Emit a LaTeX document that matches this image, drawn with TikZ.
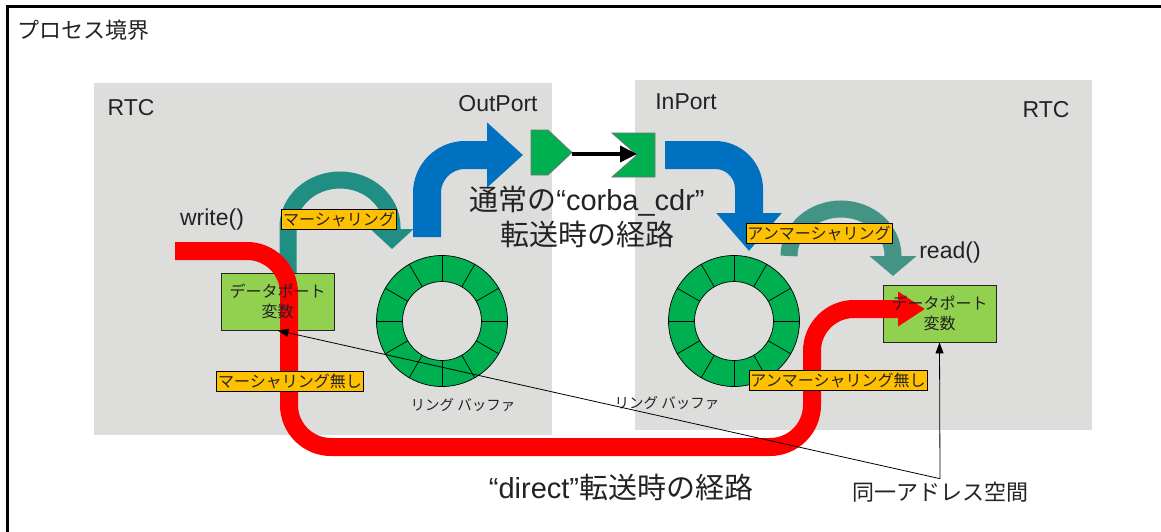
\documentclass[tikz,border=0pt]{standalone}
\usepackage{fontspec}
\setmainfont{Liberation Sans}
\newfontfamily\jp{Noto Sans CJK JP}
\usetikzlibrary{arrows.meta}

\definecolor{rtcgray}{RGB}{221,221,220}
\definecolor{portblue}{RGB}{0,112,192}
\definecolor{marshteal}{RGB}{33,142,131}
\definecolor{unmarshteal}{RGB}{68,148,133}
\definecolor{ringgreen}{RGB}{0,176,80}
\definecolor{dpgreen}{RGB}{146,208,80}
\definecolor{tagyellow}{RGB}{255,192,0}
\definecolor{ink}{RGB}{35,35,35}

\tikzset{
  rtc/.style={fill=rtcgray},
  en/.style={inner sep=0pt, text=ink, font=\fontsize{23}{27}\selectfont},
  jptxt/.style={inner sep=0pt, text=ink, font=\jp\fontsize{#1}{#1}\selectfont},
  big/.style={inner sep=0pt, text=ink, align=center, font=\fontsize{29}{35}\selectfont},
  tag/.style={draw=black, line width=0.8pt, fill=tagyellow, text=ink, inner xsep=1.5pt, inner ysep=2.5pt, font=\jp\fontsize{16}{16}\selectfont},
  dpbox/.style={draw=black!85, line width=0.8pt, fill=dpgreen, minimum width=113pt, minimum height=57pt, inner sep=0pt},
  dptext/.style={inner sep=0pt, text=ink, align=center, font=\jp\fontsize{16}{20}\selectfont},
  port/.style={fill=ringgreen, draw=black!55, line width=0.8pt},
  flow/.style={line width=#1, line cap=butt},
  pointer/.style={line width=0.8pt, -{Triangle[length=11pt,width=8pt]}},
}

\begin{document}
\begin{tikzpicture}[x=1pt, y=-1pt]
\useasboundingbox (0,0) rectangle (1161,531);
\fill[white] (0,0) rectangle (1161,531);
\clip (0,0) rectangle (1161,531);
\draw[line width=3pt] (7.5,6.5) rectangle (1190,560);
\node[jptxt=22, anchor=west] (title) at (17,30) {プロセス境界};

% RTC
\fill[rtc] (94,83) rectangle (552,435);
\fill[rtc] (635,80) rectangle (1092,430);
\node[en] (rtcL) at (131,108) {RTC};
\node[en] (rtcR) at (1046,110) {RTC};
\node[en] (outport) at (498,104) {OutPort};
\node[en] (inport) at (686,102) {InPort};

% ring buffers
\coordinate (ringL) at (442,321);
\coordinate (ringR) at (734,321);
\foreach \buf in {ringL,ringR}{
  \fill[ringgreen, even odd rule] (\buf) circle[radius=65.5pt] (\buf) circle[radius=39.5pt];
  \draw[line width=0.7pt] (\buf) circle[radius=65.5pt] (\buf) circle[radius=39.5pt];
  \foreach \a in {0,30,...,330}
    \draw[line width=0.7pt] (\buf)+(\a:39.5pt) -- +(\a:65.5pt);
}
\node[jptxt=14.5] (bufL) at (463,405) {リング バッファ};
\node[jptxt=14.5] (bufR) at (667,403) {リング バッファ};

% ports
\filldraw[port] (531,130) -- (548,130) -- (572,152.5) -- (548,175) -- (531,175) -- cycle;
\filldraw[port] (612,133) -- (655,133) -- (655,177) -- (612,177) -- (637,155) -- cycle;
\coordinate (outtip) at (572,154);
\coordinate (innotch) at (637,154);
\draw[line width=3.5pt, -{Triangle[length=17pt,width=16pt]}] (outtip) -- (innotch);

% corba_cdr path
\draw[flow=28pt, portblue, rounded corners=38pt, -{Triangle[length=36pt,width=63pt]}] (427,237) |- (523,155);
\draw[flow=28pt, portblue, rounded corners=34pt, -{Triangle[length=38pt,width=63pt]}] (665,155) -| (749,251);
\draw[flow=17pt, marshteal, -{Triangle[length=20pt,width=42pt]}] (288,273) -- (288,227) arc[start angle=180, end angle=0, x radius=52pt, y radius=47pt] -- ++(0,22);
\draw[flow=17pt, unmarshteal, -{Triangle[length=20pt,width=46pt]}] (789,256) arc[start angle=180, end angle=0, x radius=52pt, y radius=47pt] -- ++(0,20);

% data port variables
\node[dpbox] (dpL) at (277.5,301.5) {};
\node[dpbox] (dpR) at (939.5,313.5) {};

% direct path
\draw[flow=18pt, red, rounded corners=42pt, -{Triangle[length=27pt,width=33pt]}] (175,251) -| (289,447) -| (812,309) -- (925,309);

\node[dptext] (dpLtext) at (dpL) {データポート\\変数};
\node[dptext] (dpRtext) at (dpR) {データポート\\変数};

\node[tag] (marsh) at (339,219) {マーシャリング};
\node[tag] (unmarsh) at (819,233.5) {アンマーシャリング};
\node[tag] (marshno) at (290,381) {マーシャリング無し};
\node[tag] (unmarshno) at (838,380) {アンマーシャリング無し};

\node[en] (write) at (212,220) {write()};
\node[en] (read) at (950,253) {read()};

\node[big] (corba) at (587,217) {{\jp 通常の}“corba\_cdr”\\{\jp 転送時の経路}};
\node[big] (direct) at (621,487) {“direct”{\jp 転送時の経路}};

\node[jptxt=22, inner sep=3pt] (same) at (940,492) {同一アドレス空間};
\draw[pointer] (same.north) -- (dpL.south);
\draw[pointer] (same.north) -- (dpR.south);
\end{tikzpicture}
\end{document}
